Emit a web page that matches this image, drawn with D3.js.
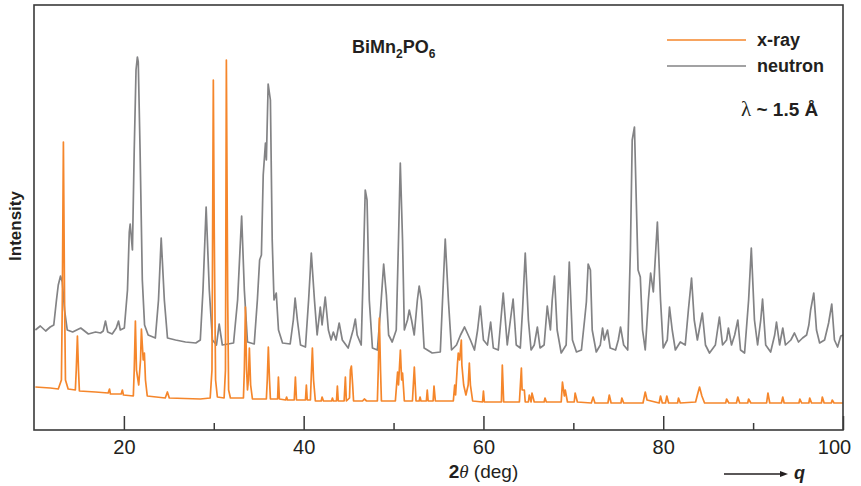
<html>
<head>
<meta charset="utf-8">
<title>BiMn2PO6 diffraction</title>
<style>
  body { margin: 0; padding: 0; background: #fff; }
  svg { display: block; }
  .lab { font-family: "Liberation Sans", Arial, sans-serif; fill: #231f20; }
  .tick text { font-family: "Liberation Sans", Arial, sans-serif; font-size: 20px; fill: #231f20; }
</style>
</head>
<body>
<div id="chart"></div>
<script src="https://d3js.org/d3.v7.min.js"></script>
<script>
// 2theta (deg), intensity (arb. units, neutron curve offset above x-ray)
var neutron = [
  [10.15,100],[10.7,104],[11.3,99],[11.8,103],[12.2,105],[12.5,130],[12.7,145],[12.95,154],[13.15,148],[13.4,120],
  [13.7,100],[14.3,98],[15.2,102],[16.05,96],[16.85,98],[17.4,97],[17.7,99],[17.95,109],[18.2,98],[18.7,96],
  [19.15,102],[19.4,109],[19.6,100],[20.05,102],[20.4,140],[20.6,198],[20.7,206],[20.95,180],[21.15,280],[21.35,360],
  [21.5,373],[21.6,368],[21.8,280],[22.05,150],[22.3,105],[22.7,95],[23.5,92],[23.85,130],[24.15,192],[24.5,130],
  [24.85,92],[25.75,90],[26.85,88],[28.0,87],[28.5,90],[28.8,140],[29.15,223],[29.5,140],[29.85,90],[30.3,85],
  [30.6,106],[30.95,85],[32.2,87],[32.65,130],[33.1,214],[33.4,140],[33.75,88],[34.5,86],[34.85,130],[35.1,170],
  [35.3,175],[35.5,255],[35.75,287],[35.85,270],[36.05,346],[36.3,330],[36.5,190],[36.7,130],[36.95,137],[37.2,100],
  [37.65,87],[38.5,86],[38.85,110],[39.05,132],[39.3,110],[39.65,85],[40.2,83],[40.55,130],[40.85,177],[41.2,130],
  [41.5,95],[41.85,123],[42.05,105],[42.4,133],[42.75,100],[43.05,90],[43.3,98],[43.6,90],[43.95,107],[44.3,90],
  [44.95,82],[45.5,100],[45.75,111],[45.95,95],[46.4,85],[46.6,150],[46.85,240],[47.05,230],[47.3,130],[47.65,82],
  [48.2,80],[48.55,120],[48.9,166],[49.1,145],[49.2,135],[49.45,95],[49.85,88],[50.3,100],[50.55,190],[50.75,267],
  [51.0,190],[51.2,100],[51.55,110],[51.75,120],[52.0,110],[52.3,95],[52.65,130],[52.85,144],[53.1,130],[53.4,82],
  [54.3,77],[55.2,78],[55.45,130],[55.75,191],[56.1,130],[56.45,80],[57.0,85],[57.45,95],[57.9,103],[58.2,97],
  [58.55,90],[59.0,80],[59.35,100],[59.65,124],[60.0,90],[60.45,85],[60.8,108],[61.1,82],[61.65,80],[62.2,137],
  [62.65,85],[63.0,110],[63.3,131],[63.65,85],[64.1,82],[64.35,120],[64.65,177],[65.0,110],[65.3,80],[65.65,85],
  [66.0,103],[66.3,82],[66.75,85],[67.1,124],[67.45,100],[67.65,130],[67.9,154],[68.2,100],[68.65,77],[69.2,85],
  [69.55,168],[69.9,90],[70.35,78],[70.9,80],[71.25,110],[71.45,128],[71.65,166],[71.9,160],[72.1,100],[72.55,78],
  [73.0,85],[73.25,102],[73.45,90],[73.8,100],[74.1,82],[74.7,80],[75.0,90],[75.25,103],[75.6,85],[76.05,80],
  [76.35,180],[76.55,290],[76.8,303],[77.0,230],[77.2,160],[77.45,153],[77.7,100],[78.0,80],[78.35,130],[78.6,157],
  [78.9,138],[79.35,208],[79.7,130],[80.0,82],[80.45,90],[80.7,123],[81.0,100],[81.35,80],[81.9,88],[82.45,85],
  [82.8,120],[83.15,152],[83.45,110],[83.8,90],[84.35,117],[84.7,85],[85.15,77],[85.8,85],[86.25,113],[86.6,85],
  [87.05,90],[87.25,102],[87.6,85],[87.95,95],[88.3,110],[88.6,80],[89.05,77],[89.5,130],[89.8,182],[90.15,110],
  [90.5,85],[90.85,110],[91.05,131],[91.4,85],[91.95,78],[92.4,95],[92.6,108],[92.95,85],[93.3,102],[93.6,85],
  [94.2,90],[94.6,97],[95.05,88],[95.5,92],[95.95,95],[96.2,105],[96.4,120],[96.75,137],[97.05,100],[97.4,87],
  [97.95,90],[98.4,107],[98.75,126],[99.05,90],[99.4,83],[99.75,94],[100.05,95]
];

var xray = [
  [10.15,43],[11.8,42],[12.7,41],[13.05,50],[13.15,130],[13.27,288],[13.4,130],[13.5,50],[13.8,41],[14.6,40],
  [14.7,60],[14.83,94],[14.95,60],[15.05,39],[16.85,38],[18.25,37],[18.4,41],[18.5,36],[19.7,36],[19.83,40],
  [19.95,35],[21.05,34],[21.15,60],[21.28,109],[21.4,60],[21.65,45],[21.85,70],[21.95,101],[22.05,85],[22.15,70],
  [22.28,77],[22.4,50],[22.6,34],[24.6,32],[24.84,38],[25.05,32],[28.5,31],[29.6,32],[29.8,60],[29.95,350],
  [30.05,200],[30.2,50],[30.4,33],[31.15,32],[31.3,60],[31.4,370],[31.55,130],[31.65,40],[31.85,32],[33.3,32],
  [33.4,60],[33.52,123],[33.65,60],[33.75,40],[33.85,50],[33.96,82],[34.1,45],[34.3,31],[35.85,31],[35.95,50],
  [36.07,83],[36.2,50],[36.3,31],[37.1,31],[37.19,53],[37.3,31],[38.0,30],[38.1,33],[38.2,30],[38.95,30],
  [39.08,53],[39.2,30],[40.2,30],[40.3,45],[40.4,30],[40.75,30],[40.85,55],[40.97,82],[41.1,50],[41.3,29],
  [41.95,29],[42.05,33],[42.2,29],[43.1,29],[43.2,32],[43.3,29],[43.65,29],[43.75,44],[43.85,29],[44.5,29],
  [44.64,53],[44.75,29],[45.1,32],[45.2,60],[45.31,64],[45.45,45],[45.55,29],[46.55,29],[46.75,31],[47.0,29],
  [48.2,29],[48.3,60],[48.42,112],[48.55,60],[48.65,29],[50.2,29],[50.45,58],[50.55,45],[50.76,80],[50.9,50],
  [51.0,57],[51.2,29],[52.1,29],[52.31,63],[52.5,29],[52.85,29],[52.95,33],[53.05,29],[53.65,29],[53.75,40],
  [53.85,29],[54.4,29],[54.5,44],[54.65,29],[56.65,29],[56.8,45],[56.9,35],[57.1,65],[57.2,77],[57.35,70],
  [57.54,90],[57.6,65],[57.8,45],[58.05,35],[58.3,45],[58.43,67],[58.55,45],[58.8,29],[59.9,28],[60.0,39],
  [60.1,28],[62.0,28],[62.1,65],[62.25,28],[64.0,28],[64.22,62],[64.3,40],[64.55,40],[64.65,28],[65.0,28],
  [65.1,35],[65.3,28],[65.4,37],[65.65,28],[66.75,28],[66.85,32],[67.0,28],[68.65,28],[68.79,48],[69.0,34],
  [69.1,40],[69.35,28],[70.1,28],[70.2,37],[70.45,28],[72.0,27],[72.2,33],[72.4,27],[73.85,27],[74.0,35],
  [74.2,27],[75.3,27],[75.4,32],[75.6,27],[77.75,27],[78.0,38],[78.2,30],[79.55,27],[79.7,34],[79.9,27],
  [80.25,27],[80.4,34],[80.6,27],[81.6,27],[81.7,32],[81.9,27],[83.6,28],[83.8,35],[84.04,43],[84.3,34],
  [84.6,27],[86.95,27],[87.05,31],[87.3,27],[88.15,27],[88.3,33],[88.5,27],[89.4,27],[89.5,31],[89.75,27],
  [91.5,27],[91.65,37],[91.85,27],[93.15,27],[93.3,33],[93.45,27],[95.1,27],[95.2,31],[95.4,27],[96.2,27],
  [96.3,32],[96.5,27],[97.6,27],[97.7,33],[97.9,27],[98.7,27],[98.8,30],[99.0,27],[100.05,27]
];

var majorTicks = [20, 40, 60, 80, 100];
var minorTicks = [30, 50, 70, 90];

var width = 861, height = 486;
var plot = { left: 34, right: 843, top: 5, bottom: 430 };
var orange = "#f5862b", grey = "#838385";

var svg = d3.select("#chart").append("svg")
    .attr("width", width)
    .attr("height", height);

var x = d3.scaleLinear().domain([10, 100]).range([plot.left, plot.right]);
var y = d3.scaleLinear().domain([0, 425]).range([plot.bottom, plot.top]);

svg.append("clipPath").attr("id", "clip")
    .append("rect")
    .attr("x", plot.left).attr("y", plot.top)
    .attr("width", plot.right - plot.left).attr("height", plot.bottom - plot.top);

var line = d3.line()
    .x(function(d) { return x(d[0]); })
    .y(function(d) { return y(d[1]); });

var g = svg.append("g").attr("clip-path", "url(#clip)");

g.append("path")
    .datum(neutron)
    .attr("d", line)
    .attr("fill", "none")
    .attr("stroke", grey)
    .attr("stroke-width", 1.7)
    .attr("stroke-linejoin", "round");

g.append("path")
    .datum(xray)
    .attr("d", line)
    .attr("fill", "none")
    .attr("stroke", orange)
    .attr("stroke-width", 1.7)
    .attr("stroke-linejoin", "round");

// axes: ticks point inward
var xAxis = svg.append("g")
    .attr("transform", "translate(0," + plot.bottom + ")")
    .call(d3.axisBottom(x).tickValues(majorTicks).tickSizeInner(-14).tickSizeOuter(0).tickPadding(10));
xAxis.select(".domain").remove();
xAxis.selectAll(".tick line").attr("stroke", "#3a3a3a").attr("stroke-width", 1.5);
// last label pulled in a little, as in the original
xAxis.selectAll(".tick text").filter(function(d) { return d === 100; }).attr("dx", -9);

var xMinor = svg.append("g")
    .attr("transform", "translate(0," + plot.bottom + ")")
    .call(d3.axisBottom(x).tickValues(minorTicks).tickSizeInner(-7).tickSizeOuter(0).tickFormat(""));
xMinor.select(".domain").remove();
xMinor.selectAll(".tick line").attr("stroke", "#3a3a3a").attr("stroke-width", 1.5);

// frame
svg.append("rect")
    .attr("x", plot.left).attr("y", plot.top)
    .attr("width", plot.right - plot.left).attr("height", plot.bottom - plot.top)
    .attr("fill", "none")
    .attr("stroke", "#3a3a3a")
    .attr("stroke-width", 1.6);

// x label
var xl = svg.append("text").attr("class", "lab")
    .attr("x", x(60)).attr("y", 478)
    .attr("text-anchor", "middle")
    .style("font-size", "19px");
xl.append("tspan").attr("font-weight", "bold").text("2");
xl.append("tspan").attr("font-style", "italic").attr("font-family", "Liberation Serif, serif").text("θ");
xl.append("tspan").text(" (deg)");

// q arrow
svg.append("line")
    .attr("x1", 724).attr("x2", 782).attr("y1", 474).attr("y2", 474)
    .attr("stroke", "#231f20").attr("stroke-width", 1.4);
svg.append("path")
    .attr("d", "M788,474 L780,471 L780,477 Z")
    .attr("fill", "#231f20");
svg.append("text").attr("class", "lab")
    .attr("x", 794).attr("y", 479)
    .style("font-size", "18px").style("font-style", "italic").style("font-weight", "bold")
    .text("q");

// y label
svg.append("text").attr("class", "lab")
    .attr("transform", "translate(21,226) rotate(-90)")
    .attr("text-anchor", "middle")
    .style("font-size", "17px").style("font-weight", "bold")
    .text("Intensity");

// formula
var f = svg.append("text").attr("class", "lab")
    .attr("x", 352).attr("y", 53)
    .style("font-size", "18px").style("font-weight", "bold");
f.append("tspan").text("BiMn");
f.append("tspan").attr("dy", 5).style("font-size", "12px").text("2");
f.append("tspan").attr("dy", -5).text("PO");
f.append("tspan").attr("dy", 5).style("font-size", "12px").text("6");

// legend
var legend = [
  { name: "x-ray", color: orange, y: 40 },
  { name: "neutron", color: grey, y: 66 }
];
legend.forEach(function(d) {
  svg.append("line")
      .attr("x1", 667).attr("x2", 746).attr("y1", d.y).attr("y2", d.y)
      .attr("stroke", d.color).attr("stroke-width", 1.7);
  svg.append("text").attr("class", "lab")
      .attr("x", 757).attr("y", d.y + 6)
      .style("font-size", "18px").style("font-weight", "bold")
      .text(d.name);
});

// wavelength
var w = svg.append("text").attr("class", "lab")
    .attr("x", 741).attr("y", 116)
    .style("font-size", "19px").style("font-weight", "bold");
w.append("tspan").style("font-family", "Liberation Serif, serif").style("font-weight", "normal").style("font-size", "21px").text("λ");
w.append("tspan").text(" ~ 1.5 Å");
</script>
</body>
</html>
